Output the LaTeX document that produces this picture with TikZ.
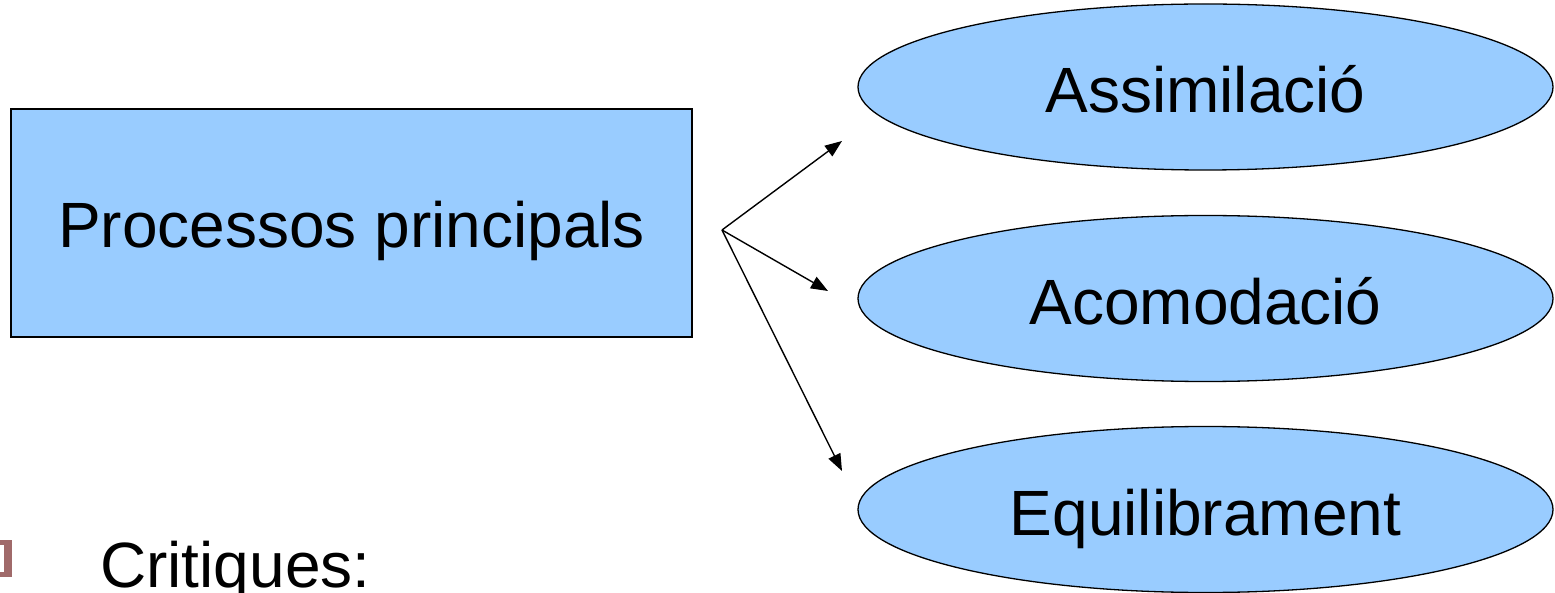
\documentclass[tikz,border=0pt]{standalone}
\usepackage{fontspec}
\setmainfont{Liberation Sans}
\usetikzlibrary{arrows.meta,shapes.geometric}
\definecolor{boxblue}{HTML}{99CCFF}
\definecolor{bulletbrown}{HTML}{A06A6A}
\begin{document}
\begin{tikzpicture}[x=1pt,y=-1pt,
  bigtext/.style={font=\fontsize{64}{76}\selectfont},
  procbox/.style={draw=black,line width=1.3pt,fill=boxblue,minimum width=681pt,minimum height=228pt,inner sep=0pt,bigtext,text height=50pt,text depth=0pt},
  oval/.style={ellipse,draw=black,line width=1.3pt,fill=boxblue,minimum width=695pt,minimum height=166pt,inner sep=0pt,bigtext,text height=52pt,text depth=0pt},
  arr/.style={line width=1.4pt,-{Triangle[length=17pt,width=13pt]}}]
\useasboundingbox (0,0) rectangle (1555,593);
\node[procbox] (proc) at (351.5,223) {Processos principals};
\node[oval] (assim) at (1205.5,87) {Assimilació};
\node[oval] (acom) at (1205.5,298.5) {Acomodació};
\node[oval] (equil) at (1205.5,509.5) {Equilibrament};
\coordinate (hub) at (722,230);
\coordinate (e1) at (842,141);
\coordinate (e2) at (828,291);
\coordinate (e3) at (842,471);
\draw[arr] (hub) -- (e1);
\draw[arr] (hub) -- (e2);
\draw[arr] (hub) -- (e3);
\fill[bulletbrown] (-10,540) rectangle (12,577);
\fill[white] (-10,545) rectangle (4,572);
\node[bigtext,anchor=base west,inner sep=0pt] (crit) at (100,587) {Critiques:};
\end{tikzpicture}
\end{document}
